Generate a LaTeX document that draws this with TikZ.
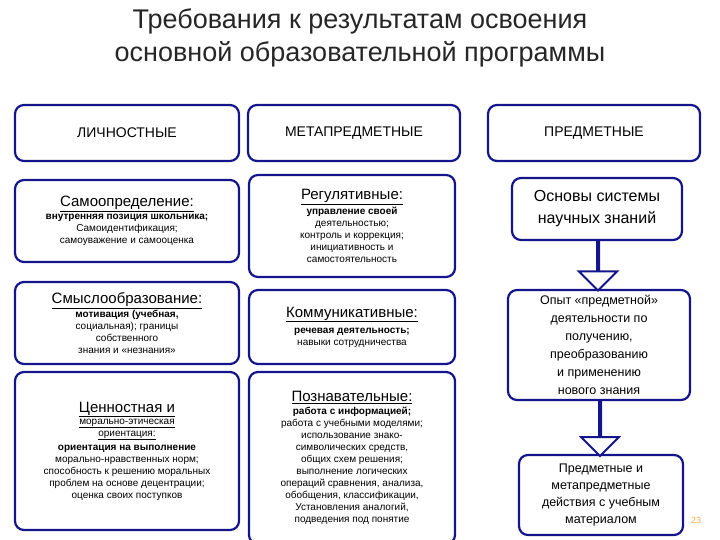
\documentclass[tikz,border=0pt]{standalone}
\usepackage{fontspec}
\setmainfont{Liberation Sans}
\usetikzlibrary{shapes.arrows,calc}
\definecolor{navy}{RGB}{20,20,140}
\newcommand{\subf}{\fontsize{15}{17}\selectfont}
\newcommand{\bodyf}{\fontsize{10}{12.2}\selectfont\bfseries}
\begin{document}
\begin{tikzpicture}[x=1pt,y=-1pt,
  box/.style={draw=navy,line width=2.2pt,rounded corners=9pt,fill=white,align=center,inner sep=2pt},
  hd/.style={font=\fontsize{14}{16}\selectfont},
  blk/.style={single arrow,draw=navy,line width=2pt,fill=white,shape border rotate=270,single arrow head extend=18pt,minimum width=30pt,inner sep=0pt}]
\useasboundingbox (0,0) rectangle (720,540);
\node[font=\fontsize{27}{33}\selectfont,align=center,text=black!85] (title) at (360,38) {Требования к результатам освоения\\основной образовательной  программы};
% row 1
\node[box,hd,minimum width=224pt,minimum height=56pt] (l1) at (127,133) {ЛИЧНОСТНЫЕ};
\node[box,hd,minimum width=212pt,minimum height=56pt] (m1) at (354,133) {МЕТАПРЕДМЕТНЫЕ};
\node[box,hd,minimum width=212pt,minimum height=56pt] (r1) at (594,133) {ПРЕДМЕТНЫЕ};
% left
\node[box,minimum width=224pt,minimum height=82pt] (l2) at (127,221) {};
\node[align=center] (l2t) at (l2) {\subf\underline{Самоопределение:}\\[1pt]\bodyf внутренняя позиция школьника;\\Самоидентификация;\\самоуважение и самооценка};
\node[box,minimum width=224pt,minimum height=82pt] (l3) at (127,323) {};
\node[align=center] (l3t) at (l3) {\subf\underline{Смыслообразование:}\\[1pt]\bodyf мотивация (учебная,\\социальная); границы\\собственного\\знания и «незнания»};
\node[box,minimum width=224pt,minimum height=158pt] (l4) at (127,451) {};
\node[align=center] (l4t) at (l4) {\subf\underline{Ценностная и}\\\underline{морально-этическая}\\\underline{ориентация:}\\[2pt]\bodyf ориентация на выполнение\\морально-нравственных норм;\\способность к решению моральных\\проблем на основе децентрации;\\оценка своих поступков};
% middle
\node[box,minimum width=206pt,minimum height=102pt] (m2) at (352,226) {};
\node[align=center] (m2t) at (m2) {\subf\underline{Регулятивные:}\\[1pt]\bodyf управление своей\\деятельностью;\\контроль и коррекция;\\инициативность и\\самостоятельность};
\node[box,minimum width=206pt,minimum height=74pt] (m3) at (352,327) {};
\node[align=center] (m3t) at (m3) {\subf\underline{Коммуникативные:}\\[4pt]\bodyf речевая деятельность;\\навыки сотрудничества};
\node[box,minimum width=206pt,minimum height=172pt] (m4) at (352,458) {};
\node[align=center] (m4t) at (m4) {\subf\underline{Познавательные:}\\[1pt]\bodyf работа с информацией;\\работа с учебными моделями;\\использование знако-\\символических средств,\\общих схем решения;\\выполнение логических\\операций сравнения,  анализа,\\обобщения, классификации,\\Установления аналогий,\\подведения под понятие};
% right
\node[box,font=\fontsize{16}{22}\selectfont,minimum width=170pt,minimum height=62pt] (r2) at (597,209) {Основы системы\\научных знаний};
\node[box,font=\fontsize{12.5}{18}\selectfont,minimum width=182pt,minimum height=110pt] (r3) at (599,345) {Опыт «предметной»\\деятельности по\\получению,\\преобразованию\\и применению\\нового знания};
\node[box,font=\fontsize{12.5}{17}\selectfont,minimum width=164pt,minimum height=80pt] (r4) at (601,495) {Предметные и\\метапредметные\\действия с учебным\\материалом};
\node[blk,minimum height=50pt] (a1) at ($(r2.south)!0.5!(r3.north)$) {};
\node[blk,minimum height=56pt] (a2) at ($(r3.south)!0.5!(r4.north)$) {};
\node[text=orange!70,font=\fontsize{9}{10}\selectfont] (pg) at (696,520) {23};
\end{tikzpicture}
\end{document}
